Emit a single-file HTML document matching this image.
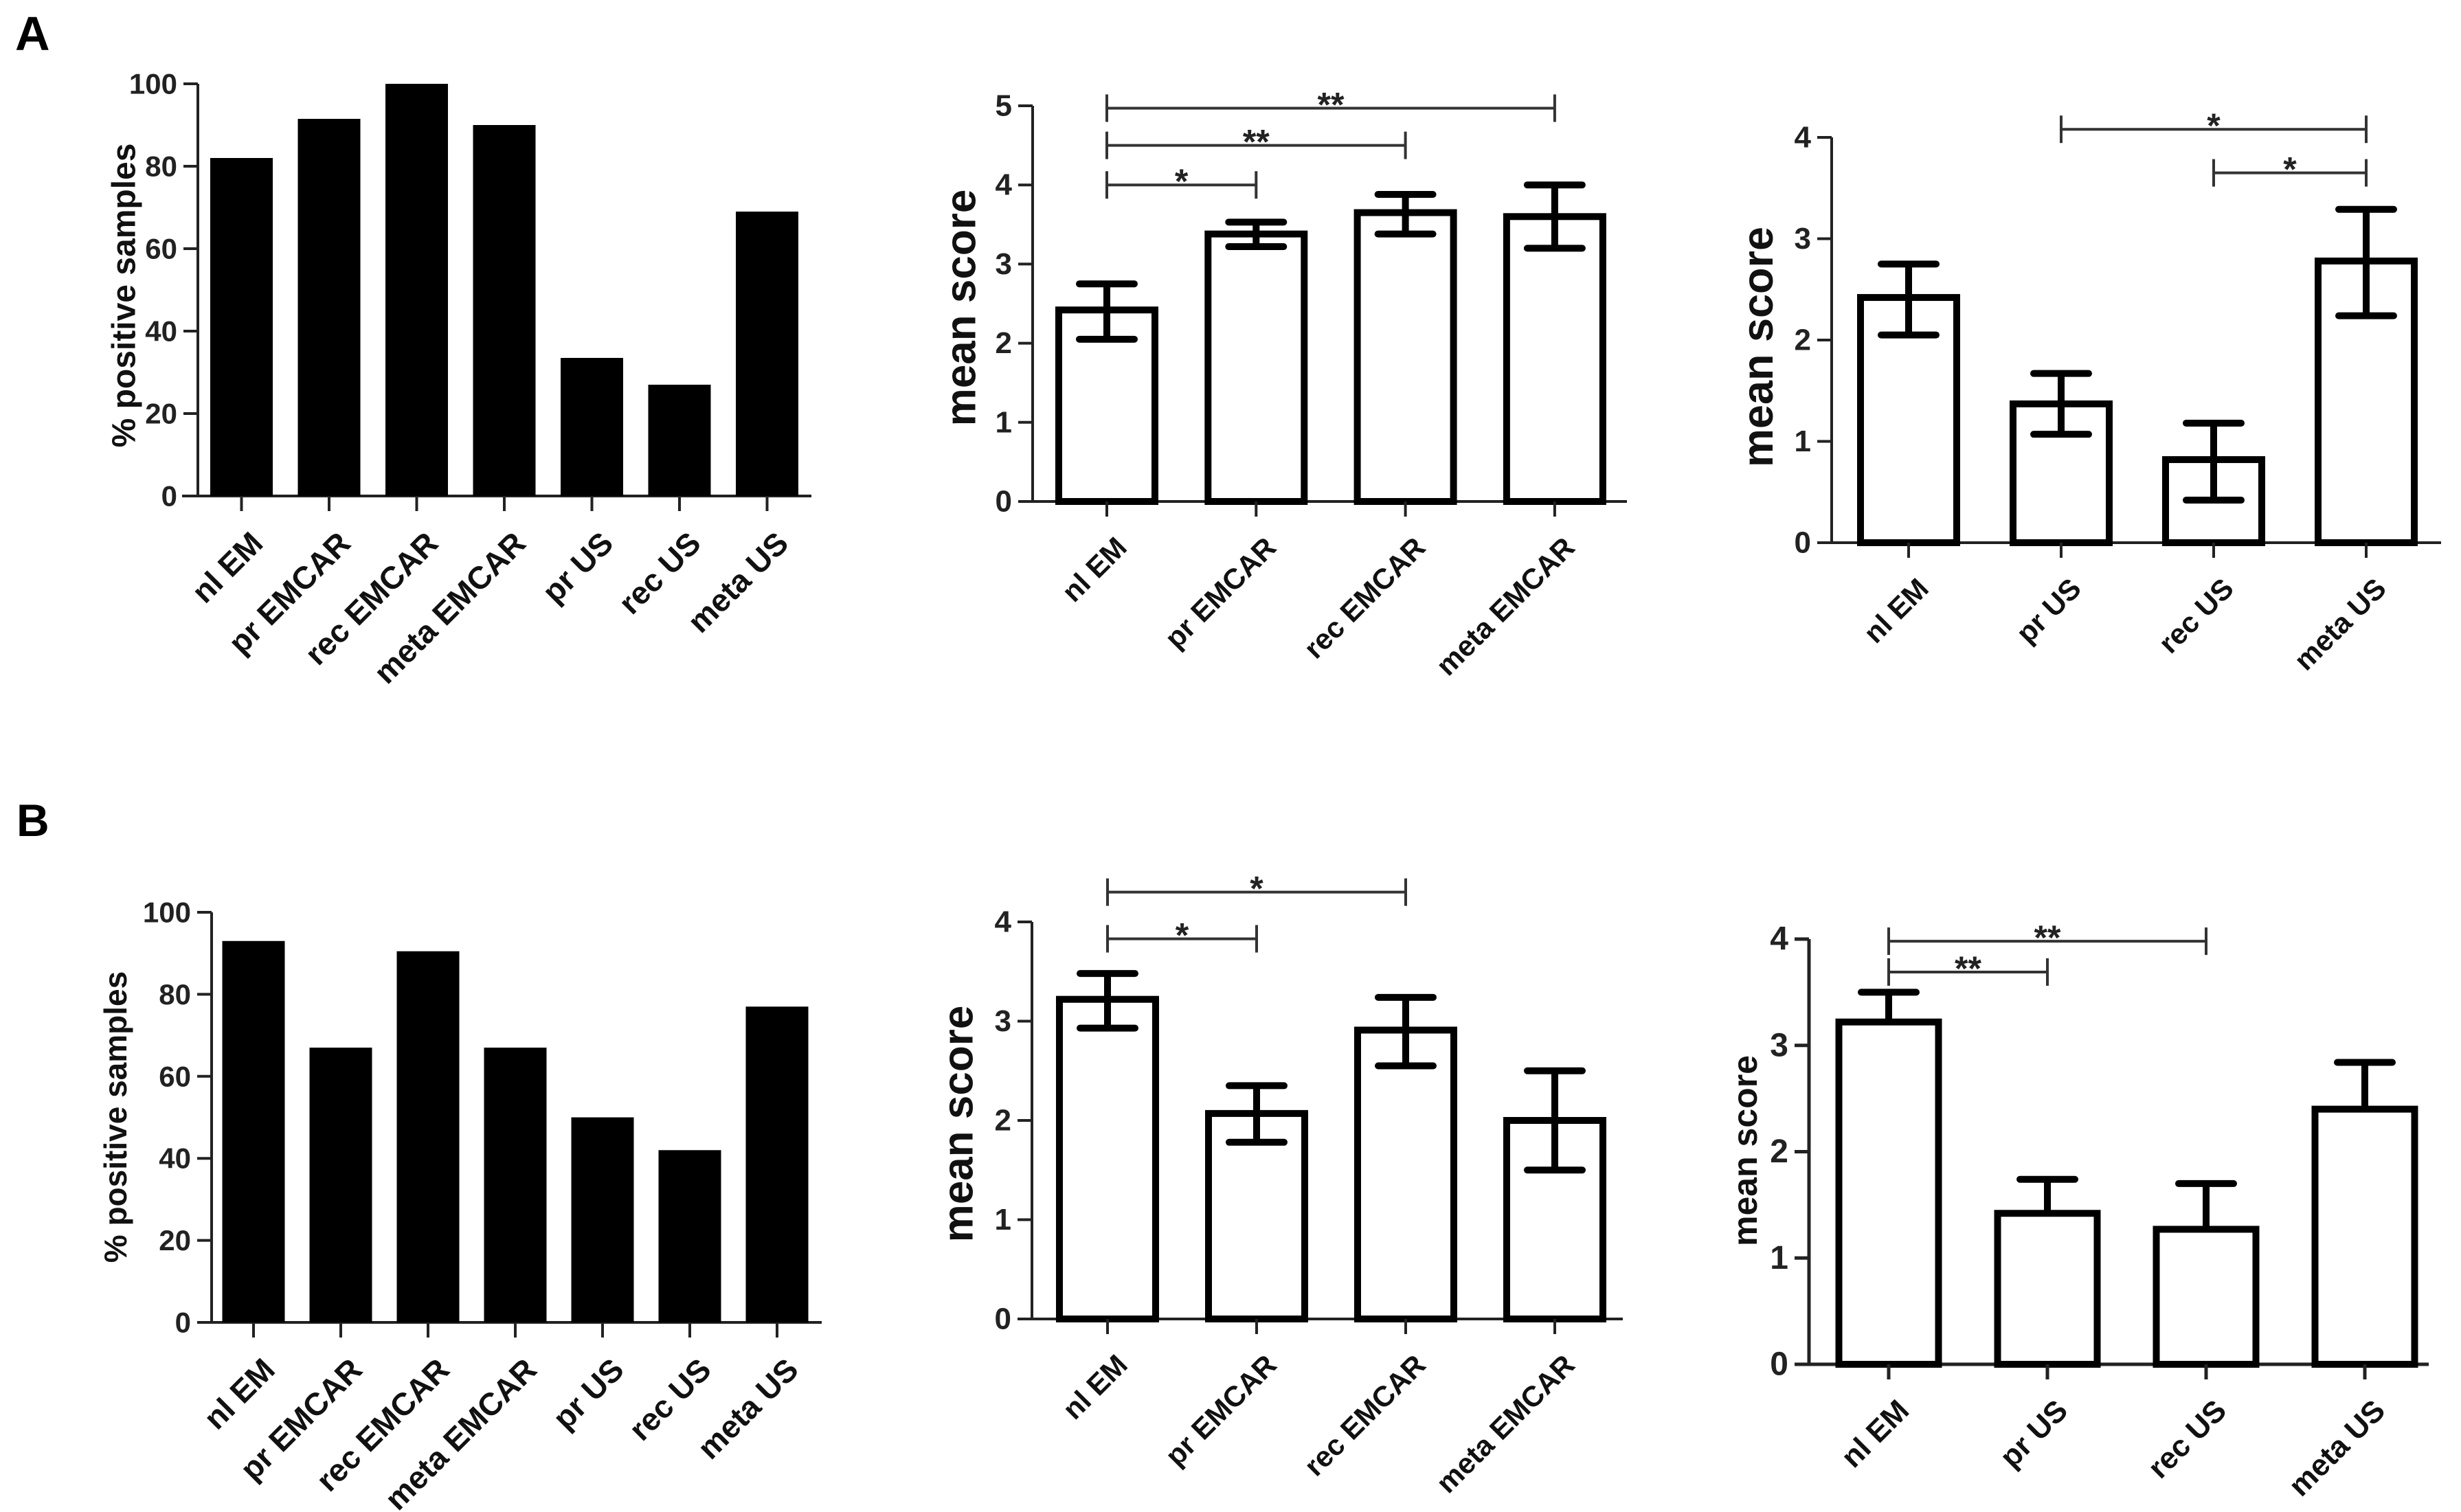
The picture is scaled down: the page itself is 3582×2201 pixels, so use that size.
<!DOCTYPE html>
<html><head><meta charset="utf-8">
<style>
html,body{margin:0;padding:0;background:#fff;}
svg{display:block;font-family:"Liberation Sans",Arial,sans-serif;font-weight:bold;}
</style></head>
<body>
<svg id="fig" xmlns="http://www.w3.org/2000/svg" width="3582" height="2201" viewBox="0 0 3582 2201">
<rect width="3582" height="2201" fill="#fff"/>
<text x="22" y="73" font-size="70">A</text>
<text x="24" y="1217" font-size="66">B</text>
</svg>
<script>
// ---- Data ----
const catsSeven = ["nl EM","pr EMCAR","rec EMCAR","meta EMCAR","pr US","rec US","meta US"];
const catsEMCAR = ["nl EM","pr EMCAR","rec EMCAR","meta EMCAR"];
const catsUS = ["nl EM","pr US","rec US","meta US"];

const a1Values = [82,91.5,100,90,33.5,27,69];
const b1Values = [93,67,90.5,67,50,42,77];
const pctTicks = [0,20,40,60,80,100];

const a2Values = [2.42,3.38,3.65,3.6];
const a2ErrLow = [2.05,3.22,3.38,3.2];
const a2ErrHigh = [2.75,3.53,3.88,4.0];
const a2Ticks = [0,1,2,3,4,5];
const a2Brackets = [[0,1,4.0,"*"],[0,2,4.5,"**"],[0,3,4.97,"**"]];

const a3Values = [2.42,1.37,0.82,2.78];
const a3ErrLow = [2.05,1.07,0.42,2.24];
const a3ErrHigh = [2.75,1.67,1.18,3.29];
const a3Ticks = [0,1,2,3,4];
const a3Brackets = [[1,3,4.08,"*"],[2,3,3.65,"*"]];

const b2Values = [3.22,2.07,2.91,2.0];
const b2ErrLow = [2.93,1.78,2.55,1.5];
const b2ErrHigh = [3.48,2.35,3.24,2.5];
const b2Ticks = [0,1,2,3,4];
const b2Brackets = [[0,1,3.83,"*"],[0,2,4.3,"*"]];

const b3Values = [3.22,1.42,1.27,2.4];
const b3ErrHigh = [3.5,1.74,1.70,2.84];
const b3Ticks = [0,1,2,3,4];
const b3Brackets = [[0,1,3.69,"**"],[0,2,3.98,"**"]];

const NS = "http://www.w3.org/2000/svg";
const svg = document.getElementById("fig");
function mk(tag, attrs, parent){
  const e = document.createElementNS(NS, tag);
  for (const k in attrs) e.setAttribute(k, attrs[k]);
  (parent||svg).appendChild(e);
  return e;
}

function chart(o){
  const g = mk("g", {});
  
  
  const yScale = v => o.y0 - (v - 0) / o.yMax * (o.y0 - o.yTopPx);
  const xScale = i => o.c0 + i * o.pitch;
  const yAxis = mk("line", {x1:o.ax, y1:o.y0, x2:o.ax, y2:yScale(o.ticks[o.ticks.length-1]), stroke:"#222", "stroke-width":o.axW}, g);
  
  
  const xAxis = mk("line", {x1:o.xStart, y1:o.y0, x2:o.xEnd, y2:o.y0, stroke:"#222", "stroke-width":o.axW}, g);
  
  
  o.ticks.forEach(t => {
    const y = yScale(t);
    const tl = mk("line", {x1:o.ax-21, y1:y, x2:o.ax, y2:y, stroke:"#222", "stroke-width":o.axW}, g);
    
    
    const tx = mk("text", {x:o.ax-30, y:y, "text-anchor":"end", "dominant-baseline":"central", "font-size":o.tickFs, fill:"#222"}, g);
    tx.textContent = t;
    
    
  });
  o.values.forEach((v,i) => {
    const c = xScale(i);
    let r;
    if (o.filled) {
      r = mk("rect", {x:c-o.bw/2, y:yScale(v), width:o.bw, height:o.y0-yScale(v), fill:"#000"}, g);
    } else {
      const sw = 10;
      r = mk("rect", {x:c-o.bw/2+sw/2, y:yScale(v), width:o.bw-sw, height:o.y0-yScale(v), fill:"#fff", stroke:"#000", "stroke-width":sw}, g);
    }
    
    
    const xt = mk("line", {x1:c, y1:o.y0, x2:c, y2:o.y0+22, stroke:"#222", "stroke-width":o.axW}, g);
    
    
    const lab = mk("text", {transform:`translate(${c+10},${o.y0+48}) rotate(-45)`, "text-anchor":"end", "dominant-baseline":"hanging", "font-size":o.catFs, fill:"#111"}, g);
    lab.textContent = o.cats[i];
    
    
    if (o.errHigh) {
      const hi = yScale(o.errHigh[i]);
      const lo = o.errLow ? yScale(o.errLow[i]) : yScale(v);
      const eb = mk("g", {}, g);
      
      
      mk("line", {x1:c, y1:hi, x2:c, y2:lo, stroke:"#000", "stroke-width":10}, eb);
      mk("line", {x1:c-40, y1:hi, x2:c+40, y2:hi, stroke:"#000", "stroke-width":10, "stroke-linecap":"round"}, eb);
      if (o.errLow) mk("line", {x1:c-40, y1:lo, x2:c+40, y2:lo, stroke:"#000", "stroke-width":10, "stroke-linecap":"round"}, eb);
    }
  });
  (o.brackets||[]).forEach(b => {
    const x1 = xScale(b[0]), x2 = xScale(b[1]), y = yScale(b[2]);
    const bg = mk("g", {}, g);
    
    
    mk("line", {x1:x1, y1:y, x2:x2, y2:y, stroke:"#333", "stroke-width":4}, bg);
    mk("line", {x1:x1, y1:y-20, x2:x1, y2:y+20, stroke:"#333", "stroke-width":4}, bg);
    mk("line", {x1:x2, y1:y-20, x2:x2, y2:y+20, stroke:"#333", "stroke-width":4}, bg);
    const st = mk("text", {x:(x1+x2)/2, y:y+12, "text-anchor":"middle", "font-size":50, fill:"#222"}, bg);
    st.textContent = b[3];
  });
  const yt = mk("text", {transform:`translate(${o.ylx},${o.yly}) rotate(-90)`, "text-anchor":"middle", "dominant-baseline":"central", "font-size":o.ylFs, fill:"#111"}, g);
  yt.textContent = o.ylabel;
  
  
}

chart({name:"chart-a-percent-positive", cats:catsSeven, values:a1Values, ticks:pctTicks, yMax:100, filled:true,
  ax:288, y0:722, yTopPx:122, xStart:265, xEnd:1181, c0:351.5, pitch:127.5, bw:91, axW:4,
  tickFs:42, catFs:46, ylabel:"% positive samples", ylx:181, yly:430, ylFs:48});
chart({name:"chart-b-percent-positive", cats:catsSeven, values:b1Values, ticks:pctTicks, yMax:100, filled:true,
  ax:308, y0:1925, yTopPx:1328, xStart:288, xEnd:1196, c0:369, pitch:127, bw:91, axW:4,
  tickFs:42, catFs:46, ylabel:"% positive samples", ylx:168, yly:1626, ylFs:46});
chart({name:"chart-a-mean-score-emcar", cats:catsEMCAR, values:a2Values, errLow:a2ErrLow, errHigh:a2ErrHigh, ticks:a2Ticks, yMax:5,
  ax:1503, y0:730, yTopPx:154, xStart:1483, xEnd:2368, c0:1611, pitch:217.3, bw:150, axW:4, brackets:a2Brackets,
  tickFs:44, catFs:42, ylabel:"mean score", ylx:1399, yly:448, ylFs:62});
chart({name:"chart-a-mean-score-us", cats:catsUS, values:a3Values, errLow:a3ErrLow, errHigh:a3ErrHigh, ticks:a3Ticks, yMax:4,
  ax:2666, y0:790, yTopPx:200, xStart:2646, xEnd:3553, c0:2778, pitch:222, bw:150, axW:4, brackets:a3Brackets,
  tickFs:44, catFs:42, ylabel:"mean score", ylx:2559, yly:505, ylFs:63});
chart({name:"chart-b-mean-score-emcar", cats:catsEMCAR, values:b2Values, errLow:b2ErrLow, errHigh:b2ErrHigh, ticks:b2Ticks, yMax:4,
  ax:1502, y0:1920, yTopPx:1342, xStart:1482, xEnd:2362, c0:1612, pitch:217, bw:150, axW:4, brackets:b2Brackets,
  tickFs:44, catFs:42, ylabel:"mean score", ylx:1395, yly:1636, ylFs:62});
chart({name:"chart-b-mean-score-us", cats:catsUS, values:b3Values, errHigh:b3ErrHigh, ticks:b3Ticks, yMax:4,
  ax:2633, y0:1986, yTopPx:1367, xStart:2614, xEnd:3535, c0:2749, pitch:231, bw:155, axW:5, brackets:b3Brackets,
  tickFs:48, catFs:44, ylabel:"mean score", ylx:2540, yly:1675, ylFs:50});
</script>
</body></html>
